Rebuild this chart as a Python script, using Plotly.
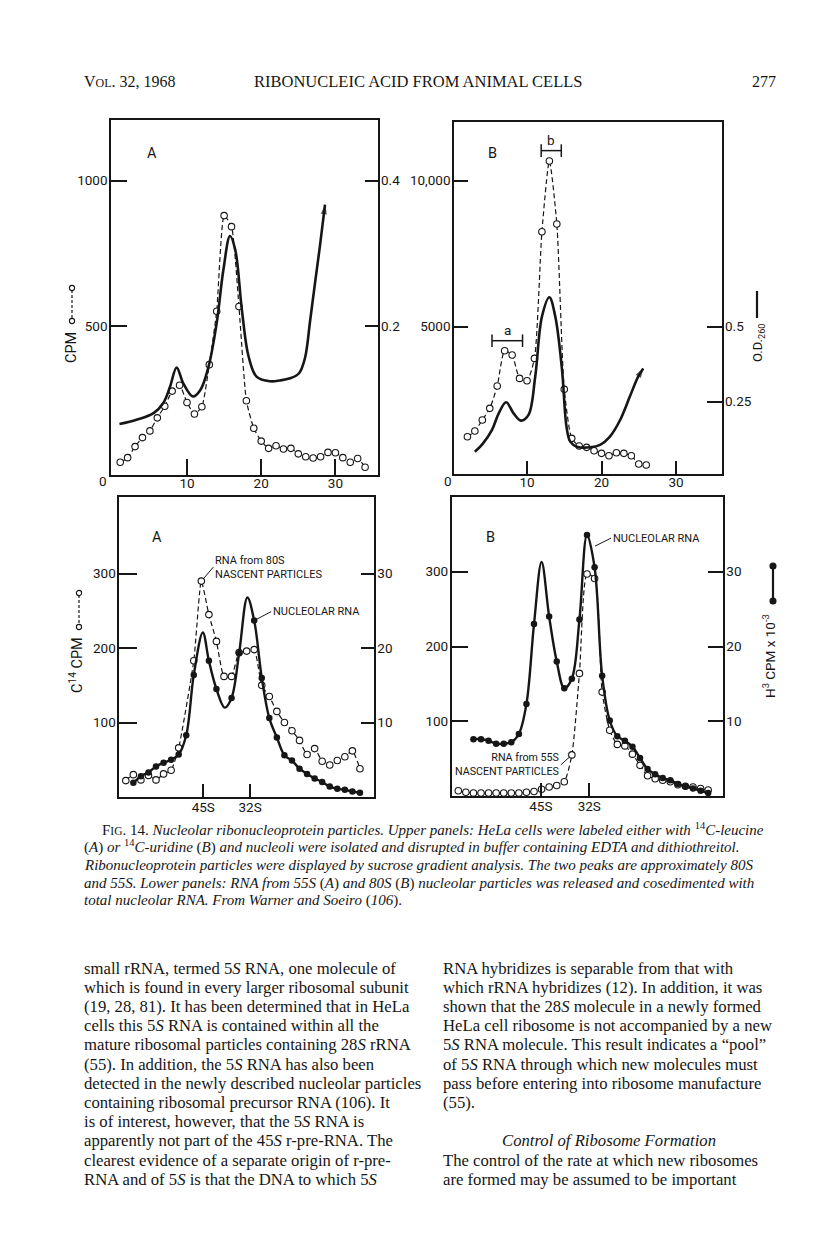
import re
import plotly.graph_objects as go

W, H = 816, 1238

# ---------------- data ----------------
# Upper panel A (14C-leucine): CPM (open circles, dashed) and O.D.260 (solid)
upA_frac = list(range(1, 35))
upA_cpm = [31, 47, 85, 116, 139, 184, 224, 276, 296, 237, 197, 222, 367, 551, 880, 842, 567,
           243, 148, 104, 79, 88, 77, 79, 60, 50, 46, 50, 65, 64, 47, 31, 44, 14]
upA_od_frac = [0.9, 3.2, 5.5, 6.8, 7.7, 8.6, 9.5, 10.8, 11.8, 12.9, 14.0, 14.9, 15.8, 16.5,
               17.4, 18.3, 19.4, 21.2, 22.5, 23.9, 25.1, 25.9, 26.6, 27.25, 27.9, 28.6]
upA_od = [0.065, 0.071, 0.080, 0.094, 0.116, 0.143, 0.121, 0.103, 0.112, 0.144, 0.204, 0.277,
          0.324, 0.305, 0.222, 0.158, 0.130, 0.124, 0.125, 0.128, 0.135, 0.156, 0.208, 0.259,
          0.309, 0.367]

# Upper panel B (14C-uridine)
upB_frac = list(range(2, 27))
upB_cpm = [1233, 1427, 1804, 2203, 2968, 4178, 4030, 3230, 3150, 3915, 8253, 10673, 8516,
           2854, 1176, 913, 868, 753, 662, 582, 685, 662, 582, 297, 262]
upB_od_frac = [3.0, 4.1, 5.3, 6.2, 7.2, 8.2, 9.2, 10.2, 11.1, 12.0, 13.0, 13.8, 14.7, 15.3,
               15.8, 16.7, 18.5, 19.8, 21.1, 22.5, 23.8, 24.9, 25.6]
upB_od = [0.083, 0.111, 0.156, 0.211, 0.248, 0.211, 0.187, 0.206, 0.333, 0.533, 0.598, 0.533,
          0.356, 0.167, 0.117, 0.100, 0.098, 0.106, 0.133, 0.189, 0.267, 0.333, 0.361]
bracket_names = ["a", "b"]
bracket_from = [5.3, 11.9]
bracket_to = [9.4, 14.6]
bracket_cpm = [4520, 11030]

# Lower panel A: C14 CPM (open, RNA from 80S nascent particles) and H3 CPM x10^-3 (filled, nucleolar RNA)
loA_c14_frac = [0, 1, 2, 3, 4, 5, 6, 7, 9, 10, 11, 12, 13, 14, 15, 16, 17, 18, 19, 20, 21, 22,
                23, 24, 25, 26, 27, 28, 29, 30, 31]
loA_c14_cpm = [22, 30, 23, 29, 23, 31, 36, 66, 183, 290, 245, 209, 162, 162, 194, 196, 198, 150,
               135, 115, 100, 89, 76, 57, 65, 48, 43, 49, 54, 62, 38]
loA_h3_frac = [1, 2, 3, 4, 5, 6, 7, 8, 9, 11, 12, 14, 15, 17, 18, 19, 20, 21, 22, 23, 24, 25, 26,
               27, 28, 29, 30, 31]
loA_h3_kcpm = [1.9, 2.8, 3.3, 4.1, 4.6, 5.0, 5.7, 8.3, 16.4, 18.3, 14.5, 13.3, 19.3, 23.7, 16.0,
               10.6, 8.0, 5.6, 4.9, 3.8, 3.1, 2.5, 2.0, 1.4, 1.1, 0.96, 0.74, 0.56]
loA_h3_apex_frac = [10.2, 13.1, 16.1]
loA_h3_apex_kcpm = [22.1, 12.0, 26.8]
loA_marker_frac = [10.26, 16.45]
loB_marker_frac = [10.9, 17.3]
marker_names = ["45S", "32S"]

# Lower panel B: C14 CPM (open, RNA from 55S nascent particles) and H3 (filled, nucleolar RNA)
loB_c14_frac = list(range(0, 34))
loB_c14_cpm = [7, 5, 4, 4, 4, 4, 4, 4, 4, 5, 6, 9, 12, 14, 19, 55, 164, 297, 291, 139, 88, 69,
               67, 56, 41, 27, 23, 21, 19, 15, 13, 12, 10, 8]
loB_h3_frac = [2, 3, 4, 5, 6, 7, 8, 9, 10, 12, 13, 14, 15, 16, 17, 18, 19, 20, 21, 22, 23, 24,
               25, 26, 27, 28, 29, 30, 31, 32, 33]
loB_h3_kcpm = [7.6, 7.6, 7.4, 7.0, 7.0, 7.2, 8.3, 12.3, 23.0, 24.0, 18.0, 14.4, 15.7, 23.6, 34.9,
               30.6, 16.1, 10.1, 8.0, 7.4, 6.6, 5.1, 3.6, 2.9, 2.4, 2.1, 1.6, 1.3, 1.0, 0.7, 0.4]
loB_h3_apex_frac = [11.0]
loB_h3_apex_kcpm = [31.3]

# ---------------- styling helpers ----------------
SANS = "Roboto"
SERIF = "Liberation Serif"
INK = "#161616"


def merged(xs, ys, ax, ay):
    pts = sorted(zip(list(xs) + list(ax), list(ys) + list(ay)))
    return [p[0] for p in pts], [p[1] for p in pts]


fig = go.Figure()

open_marker = dict(symbol="circle", size=6.5, color="white", line=dict(color=INK, width=1.1))
fill_marker = dict(symbol="circle", size=6.5, color=INK, line=dict(color=INK, width=0))
DASH = "5px,3px"

# ---- upper A ----
fig.add_trace(go.Scatter(x=upA_od_frac, y=upA_od, xaxis="x", yaxis="y2", mode="lines",
                         line=dict(color=INK, width=2.6, shape="spline", smoothing=1.0),
                         hoverinfo="skip"))
fig.add_trace(go.Scatter(x=upA_od_frac[-2:], y=upA_od[-2:], xaxis="x", yaxis="y2", mode="markers",
                         marker=dict(symbol=["circle", "arrow"], size=[0, 10], color=INK,
                                     angleref="previous", line=dict(width=0)),
                         cliponaxis=False, hoverinfo="skip"))
fig.add_trace(go.Scatter(x=upA_frac, y=upA_cpm, xaxis="x", yaxis="y", mode="lines+markers",
                         line=dict(color=INK, width=1.2, dash=DASH, shape="spline", smoothing=0.5),
                         marker=open_marker, cliponaxis=False))

# ---- upper B ----
fig.add_trace(go.Scatter(x=upB_od_frac, y=upB_od, xaxis="x2", yaxis="y4", mode="lines",
                         line=dict(color=INK, width=2.6, shape="spline", smoothing=1.0)))
fig.add_trace(go.Scatter(x=upB_od_frac[-2:], y=upB_od[-2:], xaxis="x2", yaxis="y4", mode="markers",
                         marker=dict(symbol=["circle", "arrow"], size=[0, 10], color=INK,
                                     angleref="previous", line=dict(width=0)),
                         cliponaxis=False))
fig.add_trace(go.Scatter(x=upB_frac, y=upB_cpm, xaxis="x2", yaxis="y3", mode="lines+markers",
                         line=dict(color=INK, width=1.2, dash=DASH, shape="spline", smoothing=0.6),
                         marker=open_marker, cliponaxis=False))
for nm, a, b, lv in zip(bracket_names, bracket_from, bracket_to, bracket_cpm):
    fig.add_trace(go.Scatter(x=[a, b], y=[lv, lv], xaxis="x2", yaxis="y3", mode="lines+markers",
                             line=dict(color=INK, width=1.5),
                             marker=dict(symbol="line-ns", size=9, line=dict(color=INK, width=1.5)),
                             cliponaxis=False))

# ---- lower A ----
cx, cy = merged(loA_h3_frac, loA_h3_kcpm, loA_h3_apex_frac, loA_h3_apex_kcpm)
fig.add_trace(go.Scatter(x=cx, y=cy, xaxis="x3", yaxis="y6", mode="lines",
                         line=dict(color=INK, width=2.4, shape="spline", smoothing=1.0)))
fig.add_trace(go.Scatter(x=loA_c14_frac, y=loA_c14_cpm, xaxis="x3", yaxis="y5", mode="lines+markers",
                         line=dict(color=INK, width=1.2, dash=DASH, shape="spline", smoothing=0.5),
                         marker=open_marker, cliponaxis=False))
fig.add_trace(go.Scatter(x=loA_h3_frac, y=loA_h3_kcpm, xaxis="x3", yaxis="y6", mode="markers",
                         marker=fill_marker, cliponaxis=False))

# ---- lower B ----
cx, cy = merged(loB_h3_frac, loB_h3_kcpm, loB_h3_apex_frac, loB_h3_apex_kcpm)
fig.add_trace(go.Scatter(x=cx, y=cy, xaxis="x4", yaxis="y8", mode="lines",
                         line=dict(color=INK, width=2.4, shape="spline", smoothing=1.0)))
fig.add_trace(go.Scatter(x=loB_c14_frac, y=loB_c14_cpm, xaxis="x4", yaxis="y7", mode="lines+markers",
                         line=dict(color=INK, width=1.2, dash=DASH, shape="spline", smoothing=0.6),
                         marker=open_marker, cliponaxis=False))
fig.add_trace(go.Scatter(x=loB_h3_frac, y=loB_h3_kcpm, xaxis="x4", yaxis="y8", mode="markers",
                         marker=fill_marker, cliponaxis=False))

# ---------------- axes ----------------
UL = dict(x0=111, x1=378, y0=120, y1=475)
UR = dict(x0=454, x1=722, y0=122, y1=474)
LL = dict(x0=119.3, x1=374.3, y0=497, y1=797)
LR = dict(x0=451.7, x1=723.3, y0=497, y1=796)


def dx(p):
    return [p["x0"] / W, p["x1"] / W]


def dy(p):
    return [1 - p["y1"] / H, 1 - p["y0"] / H]


TF = dict(family=SANS, size=13.5, color=INK)


def frame_axis(**kw):
    d = dict(showline=True, linecolor=INK, linewidth=1.6, mirror=True, ticks="inside",
             tickcolor=INK, tickwidth=1.5, showgrid=False, zeroline=False, tickfont=TF,
             fixedrange=True)
    d.update(kw)
    return d


def right_axis(**kw):
    d = dict(side="right", showline=False, ticks="inside", tickcolor=INK, tickwidth=1.5,
             showgrid=False, zeroline=False, tickfont=TF, fixedrange=True, ticklabelstandoff=2)
    d.update(kw)
    return d


XSU = -5  # upper x tick labels sit close under the frame
XSL = -3  # lower x tick labels (45S / 32S)
YS = -1   # left y tick labels nearly touch the frame

layout = dict(
    width=W, height=H, margin=dict(l=0, r=0, t=0, b=0),
    paper_bgcolor="white", plot_bgcolor="rgba(0,0,0,0)", showlegend=False,
    xaxis=frame_axis(domain=dx(UL), anchor="y", range=[-0.243, 35.74], tickvals=[10, 20, 30],
                     ticklen=16, ticklabelstandoff=XSU),
    yaxis=frame_axis(domain=dy(UL), anchor="x", range=[-12.7, 1209], tickvals=[500, 1000],
                     ticklen=16, ticklabelstandoff=YS),
    yaxis2=right_axis(overlaying="y", anchor="x", range=[-12.7 / 2500, 1209 / 2500],
                      tickvals=[0.2, 0.4], ticktext=["0.2", "0.4"], ticklen=13),
    xaxis2=frame_axis(domain=dx(UR), anchor="y3", range=[0.2, 36.17], tickvals=[10, 20, 30],
                      ticklen=13, ticklabelstandoff=XSU),
    yaxis3=frame_axis(domain=dy(UR), anchor="x2", range=[-44.5, 12010], tickvals=[5000, 10000],
                      ticktext=["5000", "10,000"], ticklen=14, ticklabelstandoff=YS),
    yaxis4=right_axis(overlaying="y3", anchor="x2", range=[0.009, 1.1823],
                      tickvals=[0.25, 0.5], ticktext=["0.25", "0.5"], ticklen=15),
    xaxis3=frame_axis(domain=dx(LL), anchor="y5", range=[-0.86, 32.9], tickvals=loA_marker_frac,
                      ticktext=marker_names, ticklen=13, ticklabelstandoff=XSL),
    yaxis5=frame_axis(domain=dy(LL), anchor="x3", range=[0, 403], tickvals=[100, 200, 300],
                      ticklen=18, ticklabelstandoff=YS),
    yaxis6=right_axis(overlaying="y5", anchor="x3", range=[0, 40.3], tickvals=[10, 20, 30], ticklen=13),
    xaxis4=frame_axis(domain=dx(LR), anchor="y7", range=[-0.87, 35.0], tickvals=loB_marker_frac,
                      ticktext=marker_names, ticklen=13, ticklabelstandoff=XSL),
    yaxis7=frame_axis(domain=dy(LR), anchor="x4", range=[0, 400], tickvals=[100, 200, 300],
                      ticklen=16, ticklabelstandoff=YS),
    yaxis8=right_axis(overlaying="y7", anchor="x4", range=[0, 40], tickvals=[10, 20, 30], ticklen=15),
)

# ---------------- annotations ----------------
ann = []


def txt(x, y, text, size, family=SERIF, xanchor="left", angle=0, color=INK):
    ann.append(dict(x=x / W, y=1 - y / H, xref="paper", yref="paper", text=text, showarrow=False,
                    xanchor=xanchor, yanchor="middle", textangle=angle,
                    font=dict(family=family, size=size, color=color)))


def ital_s(s):
    return re.sub(r"(\d)S\b", r"\1<i>S</i>", s)


# header
txt(82, 81, "V<span style='font-size:12px'>OL</span>. 32, 1968", 16)
txt(419, 81, "RIBONUCLEIC ACID FROM ANIMAL CELLS", 16.5, xanchor="center")
txt(778, 81, "277", 16, xanchor="right")

# panel letters and origin labels
txt(152, 153, "A", 14.5, SANS, "center")
txt(492, 153, "B", 14.5, SANS, "center")
txt(157, 537, "A", 14.5, SANS, "center")
txt(490, 537, "B", 14.5, SANS, "center")
txt(103, 481, "0", 13.5, SANS, "center")
txt(448, 481, "0", 13.5, SANS, "center")

# axis titles
txt(71, 348, "CPM", 14.5, SANS, "center", -90)
txt(76, 665, "C<sup>14</sup> CPM", 14.5, SANS, "center", -90)
txt(758, 343, "O.D.<sub>260</sub>", 13, SANS, "center", -90)
txt(769, 656, "H<sup>3</sup> CPM x 10<sup>-3</sup>", 13.5, SANS, "center", -90)

# bracket labels
for nm, a, b, lv in zip(bracket_names, bracket_from, bracket_to, bracket_cpm):
    ann.append(dict(x=(a + b) / 2, y=lv, xref="x2", yref="y3", text=nm, showarrow=False,
                    yanchor="bottom", yshift=1, font=dict(family=SANS, size=13.5, color=INK)))

# leader labels
LAB = dict(family=SANS, size=11, color=INK)
iA = loA_c14_cpm.index(max(loA_c14_cpm))
ann.append(dict(x=loA_c14_frac[iA], y=loA_c14_cpm[iA], xref="x3", yref="y5",
                text="RNA from 80S<br>NASCENT PARTICLES", align="left", xanchor="left",
                yanchor="middle", showarrow=True, arrowhead=0, arrowwidth=1, arrowcolor=INK,
                ax=12, ay=-14, standoff=3, font=LAB))
iN = loA_h3_frac.index(17)
ann.append(dict(x=loA_h3_frac[iN], y=loA_h3_kcpm[iN], xref="x3", yref="y6",
                text="NUCLEOLAR RNA", xanchor="left", yanchor="middle", showarrow=True,
                arrowhead=0, arrowwidth=1, arrowcolor=INK, ax=17, ay=-9, standoff=2, font=LAB))
iP = loB_h3_kcpm.index(max(loB_h3_kcpm))
ann.append(dict(x=loB_h3_frac[iP], y=loB_h3_kcpm[iP], xref="x4", yref="y8",
                text="NUCLEOLAR RNA", xanchor="left", yanchor="middle", showarrow=True,
                arrowhead=0, arrowwidth=1, arrowcolor=INK, ax=16, ay=-8, xshift=8, yshift=-11,
                font=LAB))
iQ = loB_c14_frac.index(15)
ann.append(dict(x=loB_c14_frac[iQ], y=loB_c14_cpm[iQ], xref="x4", yref="y7",
                text="RNA from 55S<br>NASCENT PARTICLES", align="right", xanchor="right",
                yanchor="middle", showarrow=True, arrowhead=0, arrowwidth=1, arrowcolor=INK,
                ax=-11, ay=10, standoff=3, font=dict(family=SANS, size=10.7, color=INK)))

# caption
cap = [
    "F<span style='font-size:11.5px'>IG</span>. 14. <i>Nucleolar ribonucleoprotein particles. Upper panels: HeLa cells were labeled either with </i><sup>14</sup><i>C-leucine</i>",
    "(<i>A</i>) <i>or </i><sup>14</sup><i>C-uridine</i> (<i>B</i>) <i>and nucleoli were isolated and disrupted in buffer containing EDTA and dithiothreitol.</i>",
    "<i>Ribonucleoprotein particles were displayed by sucrose gradient analysis. The two peaks are approximately 80S</i>",
    "<i>and 55S. Lower panels: RNA from 55S</i> (<i>A</i>) <i>and 80S</i> (<i>B</i>) <i>nucleolar particles was released and cosedimented with</i>",
    "<i>total nucleolar RNA. From Warner and Soeiro</i> (<i>106</i>).",
]
cap_y = [829, 847, 865, 883, 900]
for i, (line, yy) in enumerate(zip(cap, cap_y)):
    txt(100 if i == 0 else 82, yy, line, 15)

left_col = [
    "small rRNA, termed 5S RNA, one molecule of",
    "which is found in every larger ribosomal subunit",
    "(19, 28, 81). It has been determined that in HeLa",
    "cells this 5S RNA is contained within all the",
    "mature ribosomal particles containing 28S rRNA",
    "(55). In addition, the 5S RNA has also been",
    "detected in the newly described nucleolar particles",
    "containing ribosomal precursor RNA (106). It",
    "is of interest, however, that the 5S RNA is",
    "apparently not part of the 45S r-pre-RNA. The",
    "clearest evidence of a separate origin of r-pre-",
    "RNA and of 5S is that the DNA to which 5S",
]
right_col = [
    "RNA hybridizes is separable from that with",
    "which rRNA hybridizes (12). In addition, it was",
    "shown that the 28S molecule in a newly formed",
    "HeLa cell ribosome is not accompanied by a new",
    "5S RNA molecule. This result indicates a \u201cpool\u201d",
    "of 5S RNA through which new molecules must",
    "pass before entering into ribosome manufacture",
    "(55).",
    "",
    "",
    "The control of the rate at which new ribosomes",
    "are formed may be assumed to be important",
]
for i, line in enumerate(left_col):
    txt(82, 968 + 19.2 * i, ital_s(line), 16.7)
for i, line in enumerate(right_col):
    if line:
        txt(441, 968 + 19.2 * i, ital_s(line), 16.7)
txt(609, 968 + 19.2 * 9, "<i>Control of Ribosome Formation</i>", 16.7, xanchor="center")

layout["annotations"] = ann

# ---------------- axis-title keys (decoration) ----------------
shapes = []


def vline(x, y0, y1, width, dash=None):
    shapes.append(dict(type="line", xref="paper", yref="paper", x0=x / W, x1=x / W,
                       y0=1 - y0 / H, y1=1 - y1 / H,
                       line=dict(color=INK, width=width, dash=dash or "solid")))


def dot(x, y, r, filled):
    shapes.append(dict(type="circle", xref="paper", yref="paper", x0=(x - r) / W, x1=(x + r) / W,
                       y0=1 - (y + r) / H, y1=1 - (y - r) / H,
                       fillcolor=INK if filled else "white", line=dict(color=INK, width=1.1)))


vline(72, 290, 319, 1.2, "3px,2px")
dot(72, 288, 2.6, False)
dot(72, 321, 2.6, False)
vline(79, 595, 625, 1.2, "3px,2px")
dot(79, 593, 2.6, False)
dot(79, 627, 2.6, False)
vline(757, 291, 318, 2.2)
vline(773, 566, 601, 2.2)
dot(773, 566, 3, True)
dot(773, 601, 3, True)
layout["shapes"] = shapes

fig.update_layout(**layout)
fig.write_html("out.html", config={"displayModeBar": False},
               post_script="document.body.style.margin='0px';document.body.style.padding='0px';")
